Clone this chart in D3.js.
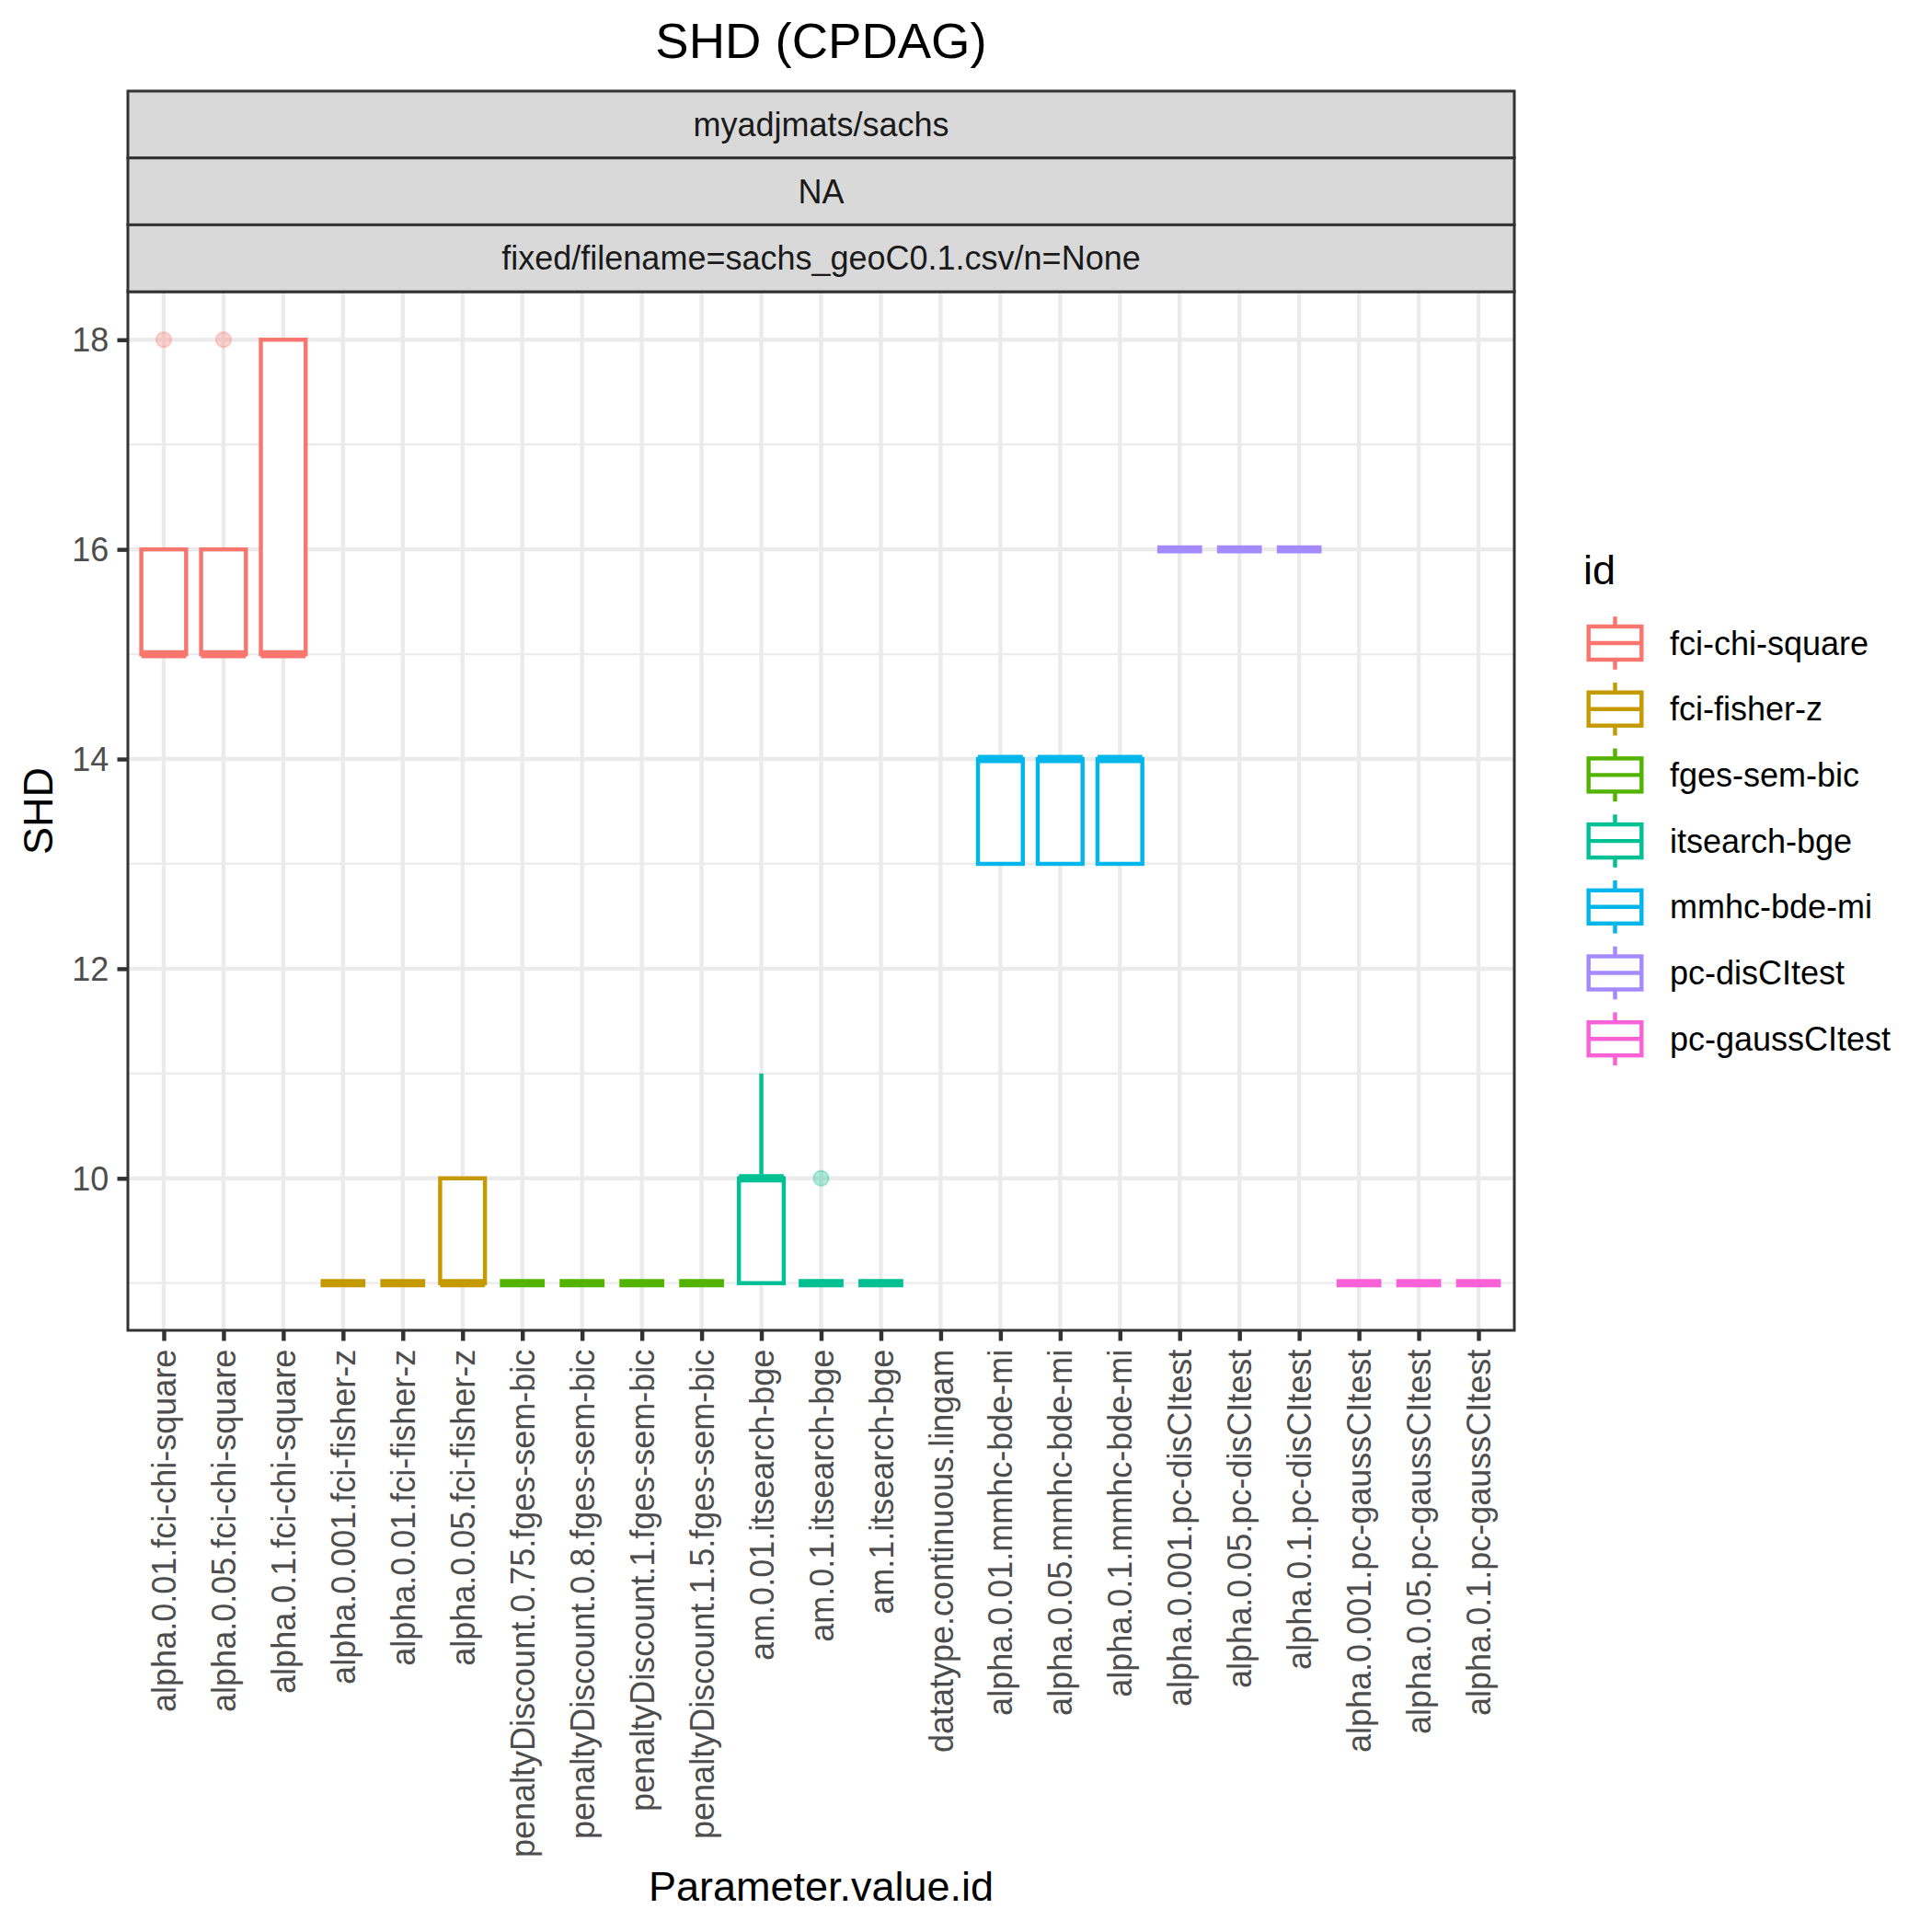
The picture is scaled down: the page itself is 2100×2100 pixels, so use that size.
<!DOCTYPE html>
<html>
<head>
<meta charset="utf-8">
<script src="https://cdn.jsdelivr.net/npm/d3@7/dist/d3.min.js"></script>
<style>
  html, body { margin: 0; padding: 0; background: #ffffff; }
  svg { display: block; }
  text { font-family: "Liberation Sans", Arial, Helvetica, sans-serif; }
</style>
</head>
<body>
<svg id="chart" width="2100" height="2100"></svg>
<script>
// ---------------- data ----------------
const categories = [
  "alpha.0.01.fci-chi-square", "alpha.0.05.fci-chi-square", "alpha.0.1.fci-chi-square",
  "alpha.0.001.fci-fisher-z", "alpha.0.01.fci-fisher-z", "alpha.0.05.fci-fisher-z",
  "penaltyDiscount.0.75.fges-sem-bic", "penaltyDiscount.0.8.fges-sem-bic",
  "penaltyDiscount.1.fges-sem-bic", "penaltyDiscount.1.5.fges-sem-bic",
  "am.0.01.itsearch-bge", "am.0.1.itsearch-bge", "am.1.itsearch-bge",
  "datatype.continuous.lingam",
  "alpha.0.01.mmhc-bde-mi", "alpha.0.05.mmhc-bde-mi", "alpha.0.1.mmhc-bde-mi",
  "alpha.0.001.pc-disCItest", "alpha.0.05.pc-disCItest", "alpha.0.1.pc-disCItest",
  "alpha.0.001.pc-gaussCItest", "alpha.0.05.pc-gaussCItest", "alpha.0.1.pc-gaussCItest"
];
const categoryId = [
  "fci-chi-square", "fci-chi-square", "fci-chi-square",
  "fci-fisher-z", "fci-fisher-z", "fci-fisher-z",
  "fges-sem-bic", "fges-sem-bic", "fges-sem-bic", "fges-sem-bic",
  "itsearch-bge", "itsearch-bge", "itsearch-bge",
  null,
  "mmhc-bde-mi", "mmhc-bde-mi", "mmhc-bde-mi",
  "pc-disCItest", "pc-disCItest", "pc-disCItest",
  "pc-gaussCItest", "pc-gaussCItest", "pc-gaussCItest"
];
// box statistics per category (null = no data)
const whiskerLow  = [15, 15, 15, 9, 9, 9, 9, 9, 9, 9, 9, 9, 9, null, 13, 13, 13, 16, 16, 16, 9, 9, 9];
const quartile1   = [15, 15, 15, 9, 9, 9, 9, 9, 9, 9, 9, 9, 9, null, 13, 13, 13, 16, 16, 16, 9, 9, 9];
const medianVal   = [15, 15, 15, 9, 9, 9, 9, 9, 9, 9, 10, 9, 9, null, 14, 14, 14, 16, 16, 16, 9, 9, 9];
const quartile3   = [16, 16, 18, 9, 9, 10, 9, 9, 9, 9, 10, 9, 9, null, 14, 14, 14, 16, 16, 16, 9, 9, 9];
const whiskerHigh = [16, 16, 18, 9, 9, 10, 9, 9, 9, 9, 11, 9, 9, null, 14, 14, 14, 16, 16, 16, 9, 9, 9];
const outliers    = [[18], [18], [], [], [], [], [], [], [], [], [], [10], [], [], [], [], [], [], [], [], [], [], []];

const ids = ["fci-chi-square", "fci-fisher-z", "fges-sem-bic", "itsearch-bge", "mmhc-bde-mi", "pc-disCItest", "pc-gaussCItest"];
const idColors = ["#F8766D", "#C49A00", "#53B400", "#00C094", "#00B6EB", "#A58AFF", "#FB61D7"];
const yTicks = [10, 12, 14, 16, 18];
const yMinorTicks = [9, 11, 13, 15, 17];
const stripLabels = ["myadjmats/sachs", "NA", "fixed/filename=sachs_geoC0.1.csv/n=None"];
const titleText = "SHD (CPDAG)";
const xTitle = "Parameter.value.id";
const yTitle = "SHD";
const legendTitle = "id";

// ---------------- layout ----------------
const P = { left: 139, right: 1646, top: 317, bottom: 1446 };
const stripTop = 99, stripH = 72.7;
const LW = 4.44;          // ggplot linewidth 0.5 at 300 dpi
const tickLen = 11.5;
const fsSmall = 36, fsMid = 45, fsTitle = 54.5;

const svg = d3.select("#chart");
const color = d3.scaleOrdinal().domain(ids).range(idColors);
const x = d3.scalePoint().domain(categories).range([P.left, P.right]).padding(0.6);
const y = d3.scaleLinear().domain([8.55, 18.45]).range([P.bottom, P.top + 1]);
const boxW = x.step() * 0.75;

// panel background
svg.append("rect").attr("x", P.left).attr("y", P.top).attr("width", P.right - P.left)
  .attr("height", P.bottom - P.top).attr("fill", "#ffffff");

// grid
const grid = svg.append("g");
grid.selectAll("line.minor").data(yMinorTicks).enter().append("line")
  .attr("x1", P.left).attr("x2", P.right).attr("y1", d => y(d)).attr("y2", d => y(d))
  .attr("stroke", "#EBEBEB").attr("stroke-width", LW / 2);
grid.selectAll("line.majory").data(yTicks).enter().append("line")
  .attr("x1", P.left).attr("x2", P.right).attr("y1", d => y(d)).attr("y2", d => y(d))
  .attr("stroke", "#EBEBEB").attr("stroke-width", LW);
grid.selectAll("line.majorx").data(categories).enter().append("line")
  .attr("x1", d => x(d)).attr("x2", d => x(d)).attr("y1", P.top).attr("y2", P.bottom)
  .attr("stroke", "#EBEBEB").attr("stroke-width", LW);

// boxplots
const boxData = categories.map((c, i) => ({
  cat: c, id: categoryId[i], lo: whiskerLow[i], q1: quartile1[i], med: medianVal[i],
  q3: quartile3[i], hi: whiskerHigh[i], out: outliers[i]
})).filter(d => d.med !== null);

const boxes = svg.append("g").selectAll("g").data(boxData).enter().append("g");
// outliers
boxes.each(function(d) {
  d3.select(this).selectAll("circle").data(d.out).enter().append("circle")
    .attr("cx", x(d.cat)).attr("cy", v => y(v)).attr("r", 8.2)
    .attr("fill", color(d.id)).attr("fill-opacity", 0.3)
    .attr("stroke", color(d.id)).attr("stroke-opacity", 0.3).attr("stroke-width", 2);
});
// whiskers
boxes.append("line").attr("x1", d => x(d.cat)).attr("x2", d => x(d.cat))
  .attr("y1", d => y(d.q3)).attr("y2", d => y(d.hi))
  .attr("stroke", d => color(d.id)).attr("stroke-width", LW);
boxes.append("line").attr("x1", d => x(d.cat)).attr("x2", d => x(d.cat))
  .attr("y1", d => y(d.q1)).attr("y2", d => y(d.lo))
  .attr("stroke", d => color(d.id)).attr("stroke-width", LW);
// box
boxes.append("rect").attr("x", d => x(d.cat) - boxW / 2).attr("width", boxW)
  .attr("y", d => y(d.q3)).attr("height", d => y(d.q1) - y(d.q3))
  .attr("fill", "#ffffff").attr("stroke", d => color(d.id)).attr("stroke-width", LW);
// median
boxes.append("line").attr("x1", d => x(d.cat) - boxW / 2).attr("x2", d => x(d.cat) + boxW / 2)
  .attr("y1", d => y(d.med)).attr("y2", d => y(d.med))
  .attr("stroke", d => color(d.id)).attr("stroke-width", LW * 2);

// panel border
svg.append("rect").attr("x", P.left).attr("y", P.top).attr("width", P.right - P.left)
  .attr("height", P.bottom - P.top).attr("fill", "none").attr("stroke", "#333333").attr("stroke-width", 3);

// strips
const strips = svg.append("g").selectAll("g").data(stripLabels).enter().append("g");
strips.append("rect").attr("x", P.left).attr("width", P.right - P.left)
  .attr("y", (d, i) => stripTop + i * stripH).attr("height", stripH)
  .attr("fill", "#D9D9D9").attr("stroke", "#333333").attr("stroke-width", 3);
strips.append("text").attr("x", (P.left + P.right) / 2)
  .attr("y", (d, i) => stripTop + i * stripH + stripH / 2).attr("dy", "0.35em")
  .attr("text-anchor", "middle").attr("font-size", fsSmall).attr("fill", "#1A1A1A").text(d => d);

// y axis
const yAxis = d3.axisLeft(y).tickValues(yTicks).tickSize(tickLen).tickPadding(9.2).tickFormat(d3.format("d"));
const gy = svg.append("g").attr("transform", `translate(${P.left},0)`).call(yAxis);
gy.select(".domain").remove();
gy.selectAll(".tick line").attr("stroke", "#333333").attr("stroke-width", LW);
gy.selectAll(".tick text").attr("font-size", fsSmall).attr("fill", "#4D4D4D")
  .attr("font-family", "Liberation Sans, Arial, sans-serif").attr("dy", "0.35em");

// x axis
const xAxis = d3.axisBottom(x).tickSize(tickLen).tickPadding(9.2);
const gx = svg.append("g").attr("transform", `translate(0,${P.bottom})`).call(xAxis);
gx.select(".domain").remove();
gx.selectAll(".tick line").attr("stroke", "#333333").attr("stroke-width", LW);
gx.selectAll(".tick text").attr("font-size", fsSmall).attr("fill", "#4D4D4D")
  .attr("font-family", "Liberation Sans, Arial, sans-serif")
  .attr("text-anchor", "end").attr("transform", `translate(0,${tickLen + 9.2}) rotate(-90)`)
  .attr("x", 0).attr("y", 0).attr("dy", "0.35em");

// titles
svg.append("text").attr("x", (P.left + P.right) / 2).attr("y", 63).attr("text-anchor", "middle")
  .attr("font-size", fsTitle).attr("fill", "#000").text(titleText);
svg.append("text").attr("x", (P.left + P.right) / 2).attr("y", 2066).attr("text-anchor", "middle")
  .attr("font-size", fsMid).attr("fill", "#000").text(xTitle);
svg.append("text").attr("transform", `translate(41,${(P.top + P.bottom) / 2}) rotate(-90)`)
  .attr("text-anchor", "middle").attr("dy", "0.35em")
  .attr("font-size", fsMid).attr("fill", "#000").text(yTitle);

// legend
const legX = 1719.5, legKey = 72, legY0 = 663, legStep = 71.7;
svg.append("text").attr("x", 1721).attr("y", 635).attr("font-size", fsMid).attr("fill", "#000").text(legendTitle);
const leg = svg.append("g").selectAll("g").data(ids).enter().append("g")
  .attr("transform", (d, i) => `translate(${legX},${legY0 + i * legStep})`);
leg.append("line").attr("x1", legKey / 2).attr("x2", legKey / 2).attr("y1", legKey * 0.1).attr("y2", legKey * 0.9)
  .attr("stroke", d => color(d)).attr("stroke-width", LW);
leg.append("rect").attr("x", legKey * 0.1).attr("width", legKey * 0.8)
  .attr("y", legKey * 0.25).attr("height", legKey * 0.5)
  .attr("fill", "#ffffff").attr("stroke", d => color(d)).attr("stroke-width", LW);
leg.append("line").attr("x1", legKey * 0.1).attr("x2", legKey * 0.9).attr("y1", legKey / 2).attr("y2", legKey / 2)
  .attr("stroke", d => color(d)).attr("stroke-width", LW);
leg.append("text").attr("x", 1815 - legX).attr("y", legKey / 2).attr("dy", "0.35em")
  .attr("font-size", fsSmall).attr("fill", "#000").text(d => d);
</script>
</body>
</html>
